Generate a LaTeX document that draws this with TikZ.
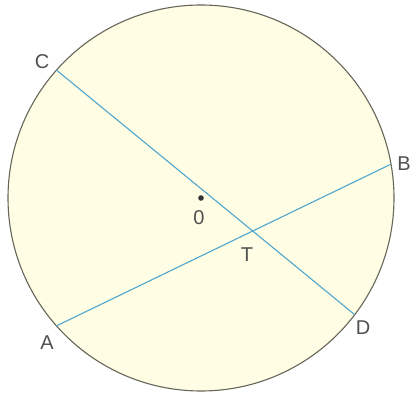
\documentclass[tikz,border=0pt]{standalone}
\usepackage{fontspec}
\setmainfont{Liberation Sans}
\usepackage{tikz}
\usetikzlibrary{calc}
\definecolor{discfill}{HTML}{FFFDE3}
\definecolor{rimgray}{HTML}{66665A}
\definecolor{chordblue}{HTML}{4FA6CF}
\definecolor{labelgray}{HTML}{505050}
\tikzset{
  lbl/.style={text=labelgray,inner sep=0pt,font=\fontsize{20}{24}\selectfont},
  chord/.style={draw=chordblue,line width=1.1pt}
}
\begin{document}
\begin{tikzpicture}[x=1pt,y=1pt]
\useasboundingbox (0,0) rectangle (413,394);
\coordinate (O) at (201,196);
% points on the rim:
\coordinate (C) at ($(O)+(138.5:193)$);
\coordinate (B) at ($(O)+(10.1:193)$);
\coordinate (A) at ($(O)+(221.5:193)$);
\coordinate (D) at ($(O)+(-37.2:193)$);
\coordinate (T) at (intersection of A--B and C--D);
% objects at depth 50:
\path[draw=rimgray,fill=discfill,line width=1.1pt] (O) circle (193);
\path[chord] (A) -- (B);
\path[chord] (C) -- (D);
\path[fill=black!80] (O) circle (2.8);
% labels:
\node[lbl] (lblC) at (42,332) {C};
\node[lbl] (lblB) at (404,230) {B};
\node[lbl] (lblA) at (47,51) {A};
\node[lbl] (lblD) at (363,66) {D};
\node[lbl] (lblO) at (199,176) {0};
\node[lbl] (lblT) at (247,139) {T};
\end{tikzpicture}
\end{document}
